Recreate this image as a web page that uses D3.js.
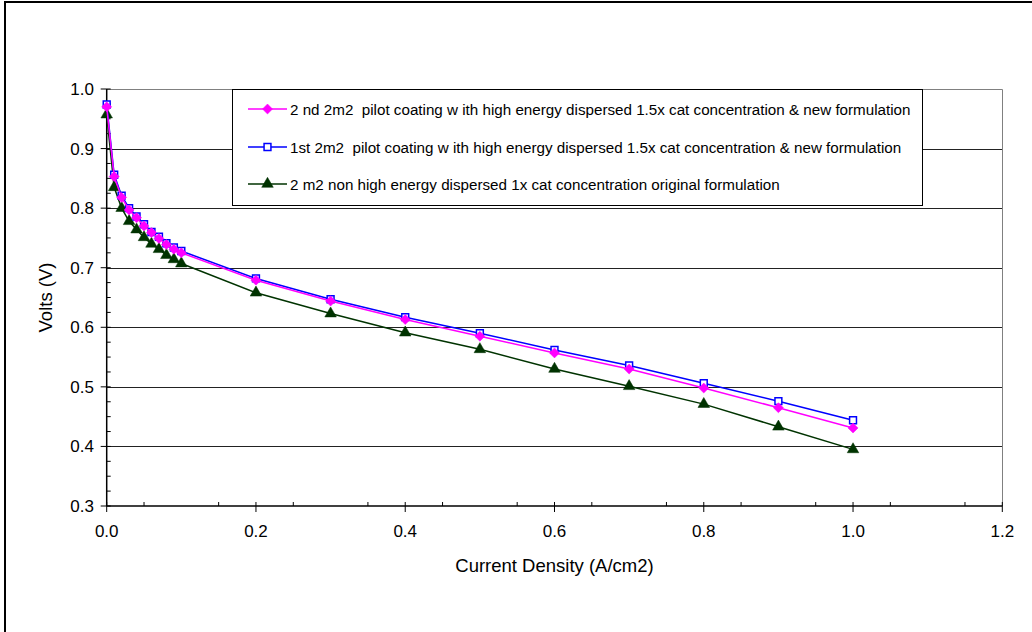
<!DOCTYPE html>
<html>
<head>
<meta charset="utf-8">
<script src="https://cdn.jsdelivr.net/npm/d3@7"></script>
<style>
  html, body { margin: 0; padding: 0; background: #fff; }
  svg { display: block; font-family: "Liberation Sans", Arial, sans-serif; }
  text { white-space: pre; }
</style>
</head>
<body>
<svg id="chart" width="1032" height="632"></svg>
<script>
"use strict";

// ─── Data ────────────────────────────────────────────────────────────────────
const current = [0, 0.01, 0.02, 0.03, 0.04, 0.05, 0.06, 0.07, 0.08, 0.09, 0.1,
                 0.2, 0.3, 0.4, 0.5, 0.6, 0.7, 0.8, 0.9, 1.0];

const volts2nd = [0.970, 0.853, 0.818, 0.797, 0.784, 0.770, 0.759, 0.749, 0.739, 0.731, 0.725,
                  0.679, 0.644, 0.613, 0.585, 0.557, 0.530, 0.498, 0.465, 0.431];
const volts1st = [0.974, 0.856, 0.821, 0.800, 0.786, 0.773, 0.760, 0.752, 0.741, 0.734, 0.728,
                  0.682, 0.647, 0.617, 0.590, 0.562, 0.536, 0.506, 0.476, 0.444];
const voltsOrig = [0.957, 0.835, 0.800, 0.778, 0.764, 0.751, 0.740, 0.731, 0.721, 0.714, 0.707,
                   0.658, 0.623, 0.591, 0.563, 0.530, 0.501, 0.471, 0.433, 0.395];

const seriesNames = [
  "2 nd 2m2  pilot coating w ith high energy dispersed 1.5x cat concentration & new formulation",
  "1st 2m2  pilot coating w ith high energy dispersed 1.5x cat concentration & new formulation",
  "2 m2 non high energy dispersed 1x cat concentration original formulation"
];

const xTicks = [0, 0.2, 0.4, 0.6, 0.8, 1.0, 1.2];
const yTicks = [0.3, 0.4, 0.5, 0.6, 0.7, 0.8, 0.9, 1.0];

// ─── Layout ──────────────────────────────────────────────────────────────────
const svg = d3.select("#chart");
const plot = { left: 106.7, right: 1002.3, top: 89, bottom: 506 };

const x = d3.scaleLinear().domain([0, 1.2]).range([plot.left, plot.right]);
const y = d3.scaleLinear().domain([0.3, 1.0]).range([plot.bottom, plot.top]);

// outer chart border (runs off the right/bottom edge like the source)
svg.append("rect")
  .attr("x", 5).attr("y", 2).attr("width", 1040).attr("height", 640)
  .attr("fill", "#fff").attr("stroke", "#000").attr("stroke-width", 2);

// horizontal gridlines
svg.append("g").selectAll("line")
  .data(yTicks.filter(v => v > 0.3 && v < 1.0))
  .join("line")
  .attr("x1", plot.left).attr("x2", plot.right)
  .attr("y1", d => Math.round(y(d)) + 0.5).attr("y2", d => Math.round(y(d)) + 0.5)
  .attr("stroke", "#222").attr("stroke-width", 1);

// plot area top / right edges
svg.append("path")
  .attr("d", `M${plot.left},${Math.round(plot.top) + 0.5}H${Math.round(plot.right) + 0.5}V${plot.bottom}`)
  .attr("fill", "none").attr("stroke", "#808080").attr("stroke-width", 1);

// ─── Axes ────────────────────────────────────────────────────────────────────
const xMinor = d3.range(0.05, 1.2, 0.1);
const yMinor = d3.range(0.325, 1.0, 0.025).filter(v => Math.abs(v * 10 - Math.round(v * 10)) > 0.01);

const axes = svg.append("g").attr("stroke", "#000").attr("stroke-width", 1);
axes.append("line")
  .attr("x1", plot.left).attr("x2", plot.right)
  .attr("y1", plot.bottom).attr("y2", plot.bottom).attr("stroke-width", 1.5);
axes.append("line")
  .attr("x1", plot.left).attr("x2", plot.left)
  .attr("y1", plot.top).attr("y2", plot.bottom).attr("stroke-width", 1.5);

axes.selectAll("line.xmaj").data(xTicks).join("line").attr("class", "xmaj")
  .attr("x1", d => x(d)).attr("x2", d => x(d))
  .attr("y1", plot.bottom - 4).attr("y2", plot.bottom + 6);
axes.selectAll("line.xmin").data(xMinor).join("line").attr("class", "xmin")
  .attr("x1", d => x(d)).attr("x2", d => x(d))
  .attr("y1", plot.bottom - 4).attr("y2", plot.bottom);
axes.selectAll("line.ymaj").data(yTicks).join("line").attr("class", "ymaj")
  .attr("x1", plot.left - 6).attr("x2", plot.left + 4)
  .attr("y1", d => y(d)).attr("y2", d => y(d));
axes.selectAll("line.ymin").data(yMinor).join("line").attr("class", "ymin")
  .attr("x1", plot.left).attr("x2", plot.left + 4)
  .attr("y1", d => y(d)).attr("y2", d => y(d));

svg.append("g").selectAll("text").data(xTicks).join("text")
  .attr("x", d => x(d)).attr("y", 537)
  .attr("text-anchor", "middle").attr("font-size", 17)
  .text(d => d.toFixed(1));

svg.append("g").selectAll("text").data(yTicks).join("text")
  .attr("x", 94).attr("y", d => y(d) + 6)
  .attr("text-anchor", "end").attr("font-size", 17)
  .text(d => d.toFixed(1));

svg.append("text")
  .attr("x", (plot.left + plot.right) / 2).attr("y", 572)
  .attr("text-anchor", "middle").attr("font-size", 18.5)
  .text("Current Density (A/cm2)");

svg.append("text")
  .attr("transform", `translate(52,${(plot.top + plot.bottom) / 2}) rotate(-90)`)
  .attr("text-anchor", "middle").attr("font-size", 18.5)
  .text("Volts (V)");

// ─── Series ──────────────────────────────────────────────────────────────────
const series = [
  { name: seriesNames[0], values: volts2nd, color: "#ff00ff", marker: "diamond" },
  { name: seriesNames[1], values: volts1st, color: "#0000ff", marker: "square" },
  { name: seriesNames[2], values: voltsOrig, color: "#003300", marker: "triangle" }
];

const symbolFor = {
  diamond: d3.symbol().type(d3.symbolDiamond2).size(64),
  square: d3.symbol().type(d3.symbolSquare2).size(60),
  triangle: d3.symbol().type(d3.symbolTriangle).size(58)
};

function drawMarker(sel, s) {
  sel.append("path")
    .attr("d", symbolFor[s.marker]())
    .attr("fill", s.marker === "square" ? "#fff" : s.color)
    .attr("stroke", s.color)
    .attr("stroke-width", s.marker === "square" ? 1.5 : 0.5);
}

const line = d3.line().x(d => x(d[0])).y(d => y(d[1]));

// draw in reverse so the 2nd-coating pink sits under blue as in the source
for (const s of series.slice().reverse()) {
  const pts = current.map((c, i) => [c, s.values[i]]);
  const g = svg.append("g");
  g.append("path").datum(pts)
    .attr("d", line).attr("fill", "none")
    .attr("stroke", s.color).attr("stroke-width", 1.5);
  g.selectAll("g.pt").data(pts).join("g").attr("class", "pt")
    .attr("transform", d => `translate(${x(d[0])},${y(d[1])})`)
    .each(function () { drawMarker(d3.select(this), s); });
}

// ─── Legend ──────────────────────────────────────────────────────────────────
const legend = svg.append("g");
legend.append("rect")
  .attr("x", 232.5).attr("y", 89.5).attr("width", 690).attr("height", 116)
  .attr("fill", "#fff").attr("stroke", "#000").attr("stroke-width", 1);

const legendY = [109, 147, 184];
series.forEach((s, i) => {
  const row = legend.append("g").attr("transform", `translate(0,${legendY[i]})`);
  row.append("line").attr("x1", 248).attr("x2", 287).attr("y1", 0).attr("y2", 0)
    .attr("stroke", s.color).attr("stroke-width", 1.5);
  const m = row.append("g").attr("transform", "translate(267.5,0)");
  drawMarker(m, s);
  row.append("text").attr("x", 290).attr("y", 5.5)
    .attr("font-size", 15.2).text(s.name);
});
</script>
</body>
</html>
